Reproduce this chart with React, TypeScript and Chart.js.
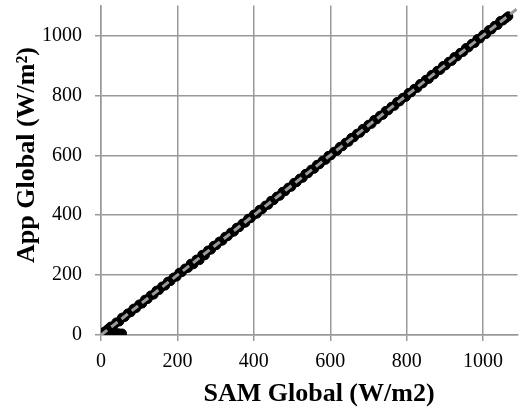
import React, { useEffect, useRef } from 'react';
import { Chart, registerables } from 'chart.js';
Chart.register(...registerables);

// SAM Global (x) vs App Global (y), W/m2
const samGlobal = [
  0, 3, 6, 10, 15, 20, 25, 30, 35, 40, 45, 50, 55,
  5, 10, 18, 25, 32, 40, 48, 55, 62, 70, 78, 85, 92, 100, 108, 115, 122, 130, 138, 145, 152,
  160, 168, 175, 182, 190, 198, 205, 212, 220, 228, 235, 242, 250, 258, 265, 272, 280, 288,
  295, 302, 310, 318, 325, 332, 340, 348, 355, 362, 370, 378, 385, 392, 400, 408, 415, 422,
  430, 438, 445, 452, 460, 468, 475, 482, 490, 498, 505, 512, 520, 528, 535, 542, 550, 558,
  565, 572, 580, 588, 595, 602, 610, 618, 625, 632, 640, 648, 655, 662, 670, 678, 685, 692,
  700, 708, 715, 722, 730, 738, 745, 752, 760, 768, 775, 782, 790, 798, 805, 812, 820, 828,
  835, 842, 850, 858, 865, 872, 880, 888, 895, 902, 910, 918, 925, 932, 940, 948, 955, 962,
  970, 978, 985, 992, 1000, 1008, 1015, 1022, 1030, 1038, 1045, 1052, 1060, 1066,
];
const appGlobal = [
  0, 1, 2, 4, 3, 5, 4, 6, 5, 3, 6, 4, 5,
  8, 12, 20, 28, 30, 42, 45, 58, 60, 72, 76, 88, 90, 102, 105, 118, 120, 132, 135, 148, 150,
  162, 165, 178, 180, 192, 195, 208, 210, 222, 224, 238, 236, 252, 250, 268, 266, 282, 285,
  298, 300, 312, 315, 328, 330, 342, 345, 358, 360, 372, 375, 388, 390, 402, 405, 418, 420,
  432, 435, 448, 450, 462, 465, 478, 480, 492, 495, 508, 510, 522, 525, 538, 540, 552, 555,
  568, 570, 582, 585, 598, 600, 612, 615, 628, 630, 642, 645, 658, 660, 672, 675, 688, 690,
  702, 705, 718, 720, 732, 735, 748, 750, 762, 765, 778, 780, 792, 795, 808, 810, 822, 825,
  838, 840, 852, 855, 868, 870, 882, 885, 898, 900, 912, 915, 928, 930, 942, 945, 958, 960,
  972, 975, 988, 990, 1002, 1005, 1018, 1020, 1032, 1035, 1048, 1050, 1058, 1064,
];
// Linear trendline endpoints
const trendX = [0, 1090];
const trendY = [0, 1090];

const xTickValues = [0, 200, 400, 600, 800, 1000];
const yTickValues = [0, 200, 400, 600, 800, 1000];
const xTitle = 'SAM Global (W/m2)';
const yTitle = 'App Global (W/m²)';

const FONT = '"Liberation Serif", "Times New Roman", serif';
const GRID = '#999999';

export default function App() {
  const ref = useRef<HTMLCanvasElement>(null);
  useEffect(() => {
    if (!ref.current) return;
    const points = samGlobal.map((x, i) => ({ x, y: appGlobal[i] }));
    const trend = trendX.map((x, i) => ({ x, y: trendY[i] }));
    const titlePlugin = {
      id: 'axisTitles',
      afterDraw(chart: any) {
        const ctx = chart.ctx;
        ctx.save();
        ctx.fillStyle = '#000';
        ctx.font = `bold 26px ${FONT}`;
        ctx.textAlign = 'center';
        ctx.textBaseline = 'alphabetic';
        ctx.fillText(xTitle, 319, 401);
        ctx.translate(34, 155);
        ctx.rotate(-Math.PI / 2);
        ctx.fillText(yTitle, 0, 0);
        ctx.restore();
      },
    };
    const tickFont = { family: FONT, size: 20 };
    const fmt = (v: any) => String(v);
    const chart = new Chart(ref.current, {
      type: 'scatter',
      data: {
        datasets: [
          {
            type: 'line',
            label: 'Trend',
            data: trend,
            borderColor: '#9a9a9a',
            borderWidth: 3,
            borderDash: [8, 5],
            pointRadius: 0,
            fill: false,
            order: 0,
          } as any,
          {
            label: 'Data',
            data: points,
            backgroundColor: '#000',
            borderColor: '#000',
            borderWidth: 1,
            pointRadius: 4.5,
            order: 1,
          },
        ],
      },
      options: {
        responsive: false,
        animation: false,
        devicePixelRatio: 1,
        layout: { padding: { top: 2, right: 1, left: 0, bottom: 0 } },
        plugins: { legend: { display: false }, tooltip: { enabled: false } },
        scales: {
          x: {
            type: 'linear',
            min: 0,
            max: 1090,
            afterBuildTicks: (s: any) => {
              s.ticks = xTickValues.map((v) => ({ value: v }));
            },
            afterFit: (s: any) => {
              s.height = 77;
              s.paddingLeft = 0;
              s.paddingRight = 0;
            },
            grid: { color: GRID, lineWidth: 1.5, tickLength: 6, drawTicks: true },
            border: { display: true, color: GRID, width: 1.5 },
            ticks: { font: tickFont, color: '#000', padding: 9, maxRotation: 0, autoSkip: false, callback: fmt },
          },
          y: {
            type: 'linear',
            min: 0,
            max: 1100,
            afterBuildTicks: (s: any) => {
              s.ticks = yTickValues.map((v) => ({ value: v }));
            },
            afterFit: (s: any) => {
              s.width = 101;
              s.paddingTop = 0;
              s.paddingBottom = 0;
            },
            grid: { color: GRID, lineWidth: 1.5, tickLength: 6, drawTicks: true },
            border: { display: true, color: GRID, width: 1.5 },
            ticks: { font: tickFont, color: '#000', padding: 13, autoSkip: false, callback: fmt },
          },
        },
      },
      plugins: [titlePlugin],
    });
    return () => chart.destroy();
  }, []);
  return (
    <div style={{ position: 'fixed', left: 0, top: 0, width: 523, height: 412, background: '#fff' }}>
      <canvas ref={ref} width={523} height={412} style={{ display: 'block' }} />
    </div>
  );
}
